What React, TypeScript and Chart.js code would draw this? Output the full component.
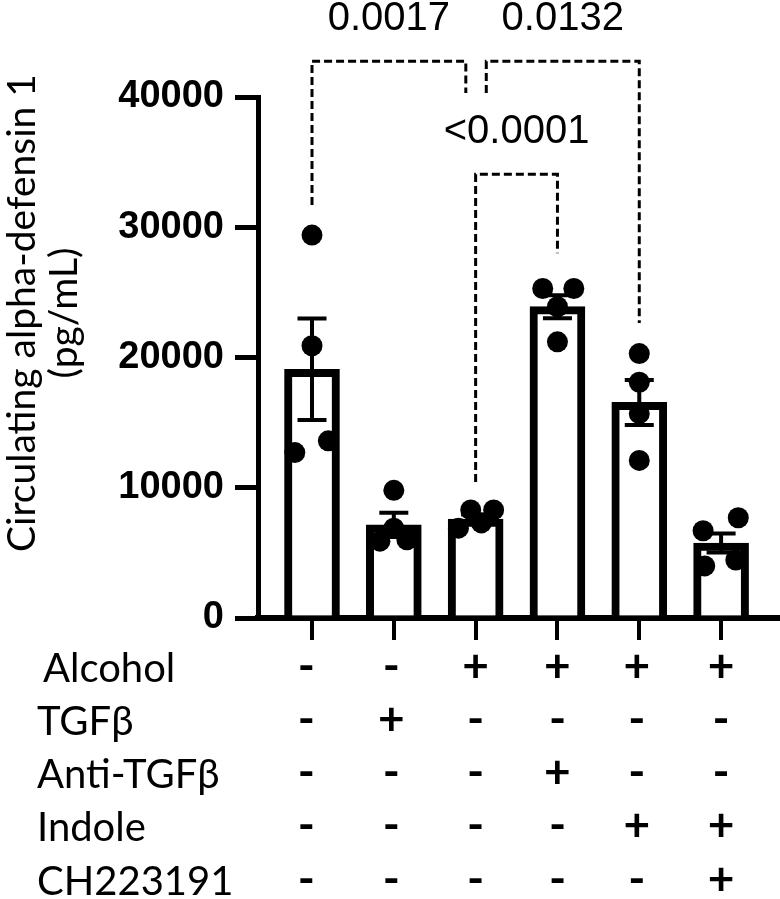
import React, { useEffect, useRef } from 'react';
import { Chart, registerables } from 'chart.js';

Chart.register(...registerables);

// ---------- data ----------
const groups = ['Control', 'TGFβ', 'Alcohol', 'Alcohol + Anti-TGFβ', 'Alcohol + Indole', 'Alcohol + Indole + CH223191'];
const means = [19100, 7150, 7600, 23900, 16550, 5750];
const sems = [3900, 930, 350, 880, 1730, 730];

const pointsControl = [29400, 20900, 12700, 13600];
const pointsTGFb = [9800, 6900, 5900, 6000];
const pointsAlcohol = [8300, 8300, 7300, 6900];
const pointsAntiTGFb = [25300, 25300, 23900, 21200];
const pointsIndole = [20300, 18100, 15700, 12100];
const pointsCH = [6700, 7700, 4000, 4450];
const groupPoints = [pointsControl, pointsTGFb, pointsAlcohol, pointsAntiTGFb, pointsIndole, pointsCH];

const yTicks = [0, 10000, 20000, 30000, 40000];
const yTitle = ['Circulating alpha-defensin 1', '(pg/mL)'];

const rowLabels = ['Alcohol', 'TGFβ', 'Anti-TGFβ', 'Indole', 'CH223191'];
const rowAlcohol = ['-', '-', '+', '+', '+', '+'];
const rowTGFb = ['-', '+', '-', '-', '-', '-'];
const rowAntiTGFb = ['-', '-', '-', '+', '-', '-'];
const rowIndole = ['-', '-', '-', '-', '+', '+'];
const rowCH = ['-', '-', '-', '-', '-', '+'];
const tableRows = [rowAlcohol, rowTGFb, rowAntiTGFb, rowIndole, rowCH];

const cmpLabels = ['0.0017', '0.0132', '<0.0001'];
const cmpFrom = [0, 2, 2];
const cmpTo = [2, 4, 3];
const cmpLevel = [42750, 42750, 34070];
const cmpDropFrom = [31700, 40300, 10440];
const cmpDropTo = [40300, 22640, 28010];

// ---------- layout / style (not data) ----------
const jitter = [
  [0, 0, -0.21, 0.2],
  [0, 0, -0.17, 0.16],
  [-0.06, 0.22, 0.07, -0.21],
  [-0.18, 0.2, 0, 0],
  [0, 0, 0, 0],
  [-0.22, 0.21, -0.2, 0.18],
];
const cmpNudgeFrom = [0, 0.13, 0];
const cmpNudgeTo = [-0.12, 0, 0];
const rowBaselines = [682, 735, 788, 841, 895];
const rowLabelX = [43, 37, 37, 37, 37];
const signNudge = [-0.07, -0.03, 0, 0, -0.03, 0];

const overlayPlugin = {
  id: 'overlay',
  afterDatasetDraw(chart: any, args: any) {
    if (args.index !== 0) return;
    const { ctx, scales } = chart;
    const x = scales.x;
    const y = scales.y;
    ctx.save();
    ctx.strokeStyle = '#000';
    ctx.lineWidth = 4;
    means.forEach((m, i) => {
      const cx = x.getPixelForValue(i);
      const top = y.getPixelForValue(m + sems[i]);
      const bot = y.getPixelForValue(m - sems[i]);
      ctx.beginPath();
      ctx.moveTo(cx, top);
      ctx.lineTo(cx, bot);
      ctx.moveTo(cx - 14.5, top);
      ctx.lineTo(cx + 14.5, top);
      ctx.moveTo(cx - 14.5, bot);
      ctx.lineTo(cx + 14.5, bot);
      ctx.stroke();
    });
    ctx.restore();
  },
  afterDraw(chart: any) {
    const { ctx, scales } = chart;
    const x = scales.x;
    const y = scales.y;
    ctx.save();
    // significance brackets
    ctx.strokeStyle = '#000';
    ctx.lineWidth = 3;
    ctx.setLineDash([8, 4]);
    cmpLabels.forEach((lab, k) => {
      const x1 = x.getPixelForValue(cmpFrom[k] + cmpNudgeFrom[k]);
      const x2 = x.getPixelForValue(cmpTo[k] + cmpNudgeTo[k]);
      const yl = y.getPixelForValue(cmpLevel[k]);
      ctx.beginPath();
      ctx.moveTo(x1, y.getPixelForValue(cmpDropFrom[k]));
      ctx.lineTo(x1, yl);
      ctx.lineTo(x2, yl);
      ctx.lineTo(x2, y.getPixelForValue(cmpDropTo[k]));
      ctx.stroke();
    });
    ctx.setLineDash([]);
    ctx.fillStyle = '#000';
    ctx.font = '40px "Liberation Sans", Arial, sans-serif';
    ctx.textAlign = 'center';
    ctx.textBaseline = 'middle';
    cmpLabels.forEach((lab, k) => {
      const x1 = x.getPixelForValue(cmpFrom[k] + cmpNudgeFrom[k]);
      const x2 = x.getPixelForValue(cmpTo[k] + cmpNudgeTo[k]);
      const yl = y.getPixelForValue(cmpLevel[k]);
      ctx.fillText(lab, (x1 + x2) / 2, yl - 42);
    });

    // y-axis title
    ctx.save();
    ctx.font = '39px Lato, "Noto Sans", sans-serif';
    ctx.textBaseline = 'alphabetic';
    ctx.textAlign = 'center';
    ctx.translate(35, 313);
    ctx.rotate(-Math.PI / 2);
    ctx.fillText(yTitle[0], 0, 0);
    ctx.fillText(yTitle[1], 0, 42);
    ctx.restore();

    // condition table
    ctx.textBaseline = 'alphabetic';
    rowLabels.forEach((lab, r) => {
      ctx.font = '40px Lato, "Noto Sans", sans-serif';
      ctx.textAlign = 'left';
      ctx.fillText(lab, rowLabelX[r], rowBaselines[r]);
      ctx.font = 'bold 46px Lato, "Noto Sans", sans-serif';
      ctx.textAlign = 'center';
      tableRows[r].forEach((s, c) => {
        ctx.fillText(s, x.getPixelForValue(c + signNudge[c]), rowBaselines[r]);
      });
    });
    ctx.restore();
  },
};

export default function App() {
  const canvasRef = useRef<HTMLCanvasElement | null>(null);

  useEffect(() => {
    document.body.style.margin = '0';
    const canvas = canvasRef.current;
    if (!canvas) return;
    const scatterData: { x: number; y: number }[] = [];
    groupPoints.forEach((pts, i) => {
      pts.forEach((v, j) => scatterData.push({ x: i + jitter[i][j], y: v }));
    });
    const chart = new Chart(canvas, {
      type: 'bar',
      data: {
        datasets: [
          {
            type: 'bar',
            label: 'Mean',
            data: means.map((m, i) => ({ x: i, y: m })) as any,
            backgroundColor: '#ffffff',
            borderColor: '#000000',
            borderWidth: 8,
            borderSkipped: 'start',
            barThickness: 55,
            order: 1,
          } as any,
          {
            type: 'scatter',
            label: 'Individual',
            data: scatterData as any,
            backgroundColor: '#000000',
            borderWidth: 0,
            pointRadius: 10.5,
            order: 0,
          } as any,
        ],
      },
      options: {
        responsive: false,
        animation: false,
        events: [],
        layout: { autoPadding: false, padding: { top: 97, left: 0, right: 0, bottom: 0 } },
        plugins: {
          legend: { display: false },
          tooltip: { enabled: false },
          title: { display: false },
        },
        scales: {
          x: {
            type: 'linear',
            min: -0.66,
            max: 5.72,
            offset: false,
            afterBuildTicks: (s: any) => {
              s.ticks = groups.map((_, i) => ({ value: i }));
            },
            afterFit: (s: any) => {
              s.height = 281;
            },
            ticks: { display: false },
            grid: { offset: false, drawOnChartArea: false, drawTicks: true, tickLength: 22, lineWidth: 4, color: '#000' },
            border: { display: true, color: '#000', width: 6 },
          },
          y: {
            type: 'linear',
            min: 0,
            max: 40000,
            afterBuildTicks: (s: any) => {
              s.ticks = yTicks.map((v) => ({ value: v }));
            },
            afterFit: (s: any) => {
              s.width = 258;
            },
            ticks: {
              color: '#000',
              padding: 11,
              font: { family: '"Liberation Sans", Arial, sans-serif', weight: 'bold', size: 38 },
              callback: (v: any) => String(v),
            },
            grid: { drawOnChartArea: false, drawTicks: true, tickLength: 23, lineWidth: 5, color: '#000' },
            border: { display: true, color: '#000', width: 5 },
          },
        },
      } as any,
      plugins: [overlayPlugin],
    });
    return () => chart.destroy();
  }, []);

  return (
    <div style={{ width: 780, height: 899 }}>
      <canvas ref={canvasRef} width={780} height={899} style={{ display: 'block' }} />
    </div>
  );
}
